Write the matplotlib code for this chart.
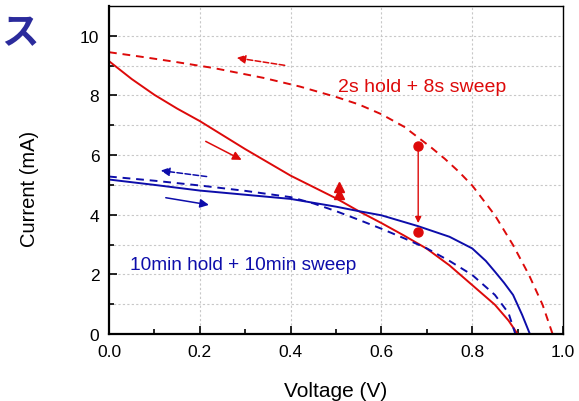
import matplotlib
matplotlib.use("Agg")
import matplotlib.pyplot as plt
import numpy as np

# curve data (voltage V, current mA)
red_fwd_v = [0.0, 0.05, 0.1, 0.15, 0.2, 0.3, 0.4, 0.5, 0.55, 0.6, 0.65, 0.7, 0.75, 0.8, 0.85, 0.88, 0.9]
red_fwd_i = [9.15, 8.55, 8.02, 7.56, 7.14, 6.2, 5.31, 4.55, 4.12, 3.72, 3.3, 2.86, 2.3, 1.64, 0.98, 0.45, 0.0]

red_rev_v = [0.0, 0.07, 0.14, 0.23, 0.34, 0.42, 0.5, 0.55, 0.6, 0.65, 0.68, 0.71, 0.74, 0.77, 0.8, 0.85, 0.89, 0.925, 0.955, 0.977]
red_rev_i = [9.45, 9.3, 9.14, 8.92, 8.59, 8.3, 7.95, 7.7, 7.37, 6.95, 6.6, 6.25, 5.87, 5.45, 4.98, 3.98, 2.98, 1.98, 0.98, 0.0]

blue_fwd_v = [0.0, 0.1, 0.2, 0.3, 0.4, 0.5, 0.55, 0.6, 0.68, 0.75, 0.8, 0.83, 0.85, 0.87, 0.89, 0.91, 0.927]
blue_fwd_i = [5.18, 5.0, 4.81, 4.67, 4.53, 4.27, 4.12, 3.98, 3.62, 3.26, 2.87, 2.45, 2.09, 1.72, 1.31, 0.64, 0.0]

blue_rev_v = [0.0, 0.1, 0.2, 0.3, 0.4, 0.45, 0.5, 0.55, 0.6, 0.65, 0.7, 0.75, 0.8, 0.85, 0.88, 0.895]
blue_rev_i = [5.28, 5.14, 4.98, 4.8, 4.59, 4.38, 4.12, 3.83, 3.53, 3.21, 2.87, 2.45, 1.98, 1.31, 0.7, 0.0]

# vertical drop marker at 0.68 V
drop_v = 0.681
drop_top, drop_bot = 6.31, 3.42

red = '#dd0a0a'
blue = '#0d0daa'

fig = plt.figure(figsize=(5.79, 4.02), dpi=100)
ax = fig.add_axes([0.1883, 0.1667, 0.7841, 0.8159])

# grid
for yv in range(1, 11):
    ax.axhline(yv, color='#c8c8c8', lw=0.8, ls=(0, (2, 2)), zorder=0)
for xv in [0.2, 0.4, 0.6, 0.8]:
    ax.axvline(xv, color='#c8c8c8', lw=0.8, ls=(0, (2, 2)), zorder=0)

ax.plot(red_fwd_v, red_fwd_i, color=red, lw=1.4)
ax.plot(red_rev_v, red_rev_i, color=red, lw=1.4, dashes=(4, 3))
ax.plot(blue_fwd_v, blue_fwd_i, color=blue, lw=1.4)
ax.plot(blue_rev_v, blue_rev_i, color=blue, lw=1.4, dashes=(4, 3))

# drop marker
ax.plot([drop_v, drop_v], [drop_top, drop_bot], 'o', color=red, ms=6.5)
ax.annotate('', xy=(drop_v, 3.72), xytext=(drop_v, drop_top),
            arrowprops=dict(arrowstyle='-|>', color=red, lw=1.0,
                            mutation_scale=9, shrinkA=0, shrinkB=0))

# small up arrows
ax.plot([0.506, 0.506], [4.70, 4.93], '^', color=red, ms=7)

# sweep direction arrows
def sweep_arrow(p0, p1, c, ls):
    ax.annotate('', xy=p1, xytext=p0,
                arrowprops=dict(arrowstyle='-|>', color=c, lw=1.1, ls=ls,
                                mutation_scale=13, shrinkA=0, shrinkB=0))

sweep_arrow((0.387, 9.01), (0.281, 9.26), red, '--')
sweep_arrow((0.213, 6.46), (0.292, 5.84), red, '-')
sweep_arrow((0.215, 5.28), (0.114, 5.48), blue, '--')
sweep_arrow((0.125, 4.57), (0.22, 4.33), blue, '-')

ax.text(0.504, 8.3, '2s hold + 8s sweep', color=red, fontsize=14,
        family='Liberation Sans', va='center', ha='left')
ax.text(0.047, 2.33, '10min hold + 10min sweep', color=blue, fontsize=13.7,
        family='Liberation Sans', va='center', ha='left')

ax.set_xlim(0, 1.0)
ax.set_ylim(0, 11)
ax.set_xticks(np.arange(0, 1.01, 0.2))
ax.set_xticks(np.arange(0.1, 1.0, 0.2), minor=True)
ax.set_yticks(np.arange(0, 11, 2))
ax.set_yticks(np.arange(1, 11, 2), minor=True)
ax.set_xticklabels(['0.0', '0.2', '0.4', '0.6', '0.8', '1.0'])
ax.tick_params(which='major', direction='in', length=6, width=1.2,
               labelsize=12.5, top=False, right=False, pad=7)
ax.tick_params(which='minor', direction='in', length=3.5, width=1.2,
               top=False, right=False)
for lab in ax.get_xticklabels() + ax.get_yticklabels():
    lab.set_family('Liberation Sans')
for side in ['left', 'bottom']:
    ax.spines[side].set_linewidth(1.6)
for side in ['top', 'right']:
    ax.spines[side].set_linewidth(1.0)

ax.set_xlabel('Voltage (V)', fontsize=15, family='Liberation Sans')
ax.set_ylabel('Current (mA)', fontsize=14.5, family='Liberation Sans')
ax.xaxis.set_label_coords(0.5, -0.143)
ax.yaxis.set_label_coords(-0.155, 0.445)

fig.text(0.066, 0.918, 'ス', color='#2b2b9c', fontsize=27, fontweight='bold',
         family=['Noto Sans CJK JP', 'DejaVu Sans'], ha='right', va='center')

fig.savefig('out.png', dpi=100)
